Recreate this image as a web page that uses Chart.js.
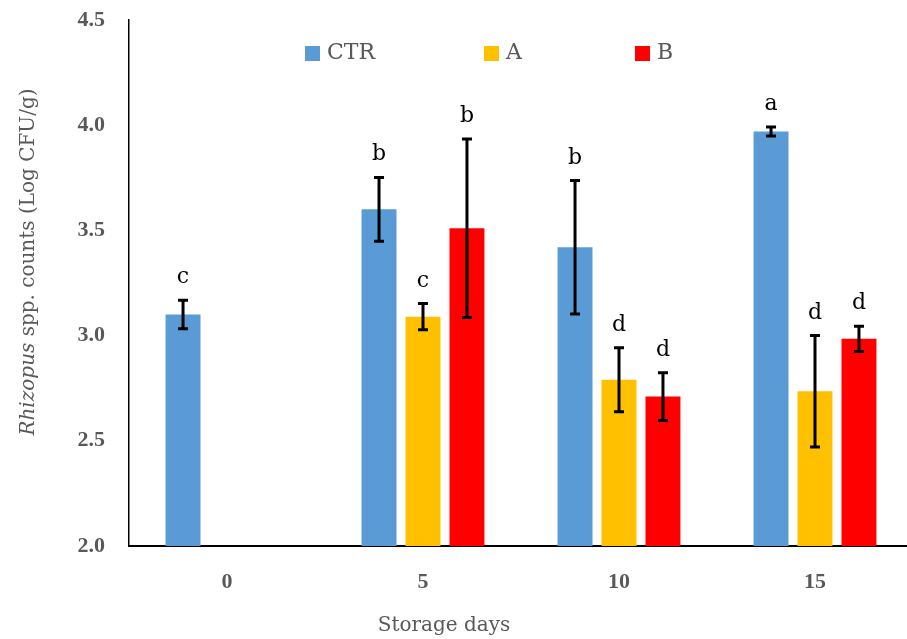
<!DOCTYPE html>
<html>
<head>
<meta charset="utf-8">
<script src="https://cdn.jsdelivr.net/npm/chart.js@4.4.1/dist/chart.umd.min.js"></script>
<style>
  html, body { margin: 0; padding: 0; overflow: hidden; background: #fff; }
  #wrap { position: absolute; left: 0; top: 0; width: 913px; height: 639px; }
</style>
</head>
<body>
<div id="wrap"><canvas id="grafico" width="913" height="639"></canvas></div>
<script>
const dias = ['0', '5', '10', '15']
const ctr = [3.10, 3.60, 3.42, 3.97]
const trtA = [null, 3.09, 2.79, 2.735]
const trtB = [null, 3.51, 2.71, 2.985]
const ctrErr = [0.068, 0.152, 0.317, 0.021]
const aErr = [null, 0.062, 0.152, 0.265]
const bErr = [null, 0.424, 0.113, 0.06]
const ctrLetras = ['c', 'b', 'b', 'a']
const aLetras = [null, 'c', 'd', 'd']
const bLetras = [null, 'b', 'd', 'd']

const textoCinza = '#595959'
const serif = '"DejaVu Serif", serif'
const fonteTicks = { family: '"Liberation Serif", serif', size: 22, weight: 'bold' }

// barras de erro, letras, legenda e titulos
const extras = {
    id: 'extras',
    afterDatasetsDraw(chart) {
        const ctx = chart.ctx
        const y = chart.scales.y
        ctx.save()
        chart.data.datasets.forEach((ds, i) => {
            const meta = chart.getDatasetMeta(i)
            meta.data.forEach((bar, j) => {
                const v = ds.data[j]
                if (v === null) return
                const e = ds.erros[j]
                const topo = y.getPixelForValue(v + e)
                const base = y.getPixelForValue(v - e)
                ctx.strokeStyle = '#000'
                ctx.lineWidth = 3
                ctx.beginPath()
                ctx.moveTo(bar.x, topo)
                ctx.lineTo(bar.x, base)
                ctx.moveTo(bar.x - 5, topo)
                ctx.lineTo(bar.x + 5, topo)
                ctx.moveTo(bar.x - 5, base)
                ctx.lineTo(bar.x + 5, base)
                ctx.stroke()
                ctx.fillStyle = '#000'
                ctx.font = '22px ' + serif
                ctx.textAlign = 'center'
                ctx.textBaseline = 'alphabetic'
                ctx.fillText(ds.letras[j], bar.x, topo - 17)
            })
        })
        ctx.restore()
    },
    afterDraw(chart) {
        const ctx = chart.ctx
        ctx.save()
        // legenda
        const posLegenda = [305, 484, 635]
        ctx.font = '22px ' + serif
        ctx.textBaseline = 'middle'
        ctx.textAlign = 'left'
        chart.data.datasets.forEach((ds, i) => {
            ctx.fillStyle = ds.backgroundColor
            ctx.fillRect(posLegenda[i], 46, 15, 15)
            ctx.fillStyle = textoCinza
            ctx.fillText(ds.label, posLegenda[i] + 22, 53)
        })
        // titulo eixo x
        ctx.font = '20px ' + serif
        ctx.textAlign = 'center'
        ctx.fillText('Storage days', 444, 626)
        // titulo eixo y
        ctx.translate(29, 262)
        ctx.rotate(-Math.PI / 2)
        const parte1 = 'Rhizopus'
        const parte2 = ' spp. counts (Log CFU/g)'
        ctx.font = 'italic 20px ' + serif
        const w1 = ctx.measureText(parte1).width
        ctx.font = '20px ' + serif
        const w2 = ctx.measureText(parte2).width
        let x0 = -(w1 + w2) / 2
        ctx.textAlign = 'left'
        ctx.font = 'italic 20px ' + serif
        ctx.fillText(parte1, x0, 0)
        ctx.font = '20px ' + serif
        ctx.fillText(parte2, x0 + w1, 0)
        ctx.restore()
    }
}

const elementoGrafico = document.querySelector('#grafico')

const grafico = new Chart(elementoGrafico, {
    type: 'bar',
    data: {
        labels: dias,
        datasets: [
            { label: 'CTR', data: ctr, erros: ctrErr, letras: ctrLetras, backgroundColor: '#5B9BD5' },
            { label: 'A', data: trtA, erros: aErr, letras: aLetras, backgroundColor: '#FFC000' },
            { label: 'B', data: trtB, erros: bErr, letras: bLetras, backgroundColor: '#FF0000' }
        ]
    },
    options: {
        responsive: false,
        animation: false,
        categoryPercentage: 0.673,
        barPercentage: 0.795,
        layout: { padding: { top: 20, left: 0, right: 0, bottom: 0 } },
        plugins: {
            legend: { display: false },
            tooltip: { enabled: false }
        },
        scales: {
            x: {
                grid: { display: false, drawTicks: false },
                border: { color: '#000', width: 2 },
                ticks: {
                    color: textoCinza,
                    font: fonteTicks,
                    padding: 23
                },
                afterFit(scale) {
                    scale.height = 93
                    scale.paddingLeft = 0
                    scale.paddingRight = 0
                }
            },
            y: {
                min: 2.0,
                max: 4.5,
                grid: { display: false, drawTicks: false },
                border: { color: '#000', width: 1.5 },
                ticks: {
                    stepSize: 0.5,
                    color: textoCinza,
                    font: fonteTicks,
                    padding: 24,
                    callback: v => v.toFixed(1)
                },
                afterFit(scale) {
                    scale.width = 129
                    scale.paddingTop = 0
                    scale.paddingBottom = 0
                }
            }
        }
    },
    plugins: [extras]
})
</script>
</body>
</html>
